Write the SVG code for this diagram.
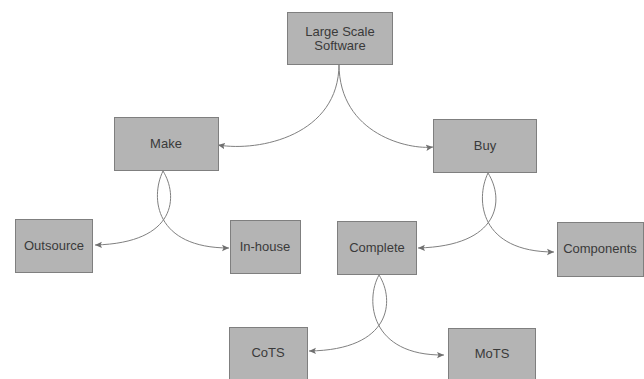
<svg xmlns="http://www.w3.org/2000/svg" width="644" height="379" viewBox="0 0 644 379">
<style>
.box{fill:#b4b4b4;stroke:#7f7f7f;stroke-width:1}
.lbl{font-family:"Liberation Sans",Arial,sans-serif;font-size:13px;fill:#3a3a3a;text-anchor:middle}
.edge{fill:none;stroke:#808080;stroke-width:1}
</style>
<defs>
<marker id="arr" markerWidth="8" markerHeight="8" refX="7" refY="4" orient="auto" markerUnits="userSpaceOnUse">
<path d="M0,0.8 L7,4 L0,7.2 L1.5,4 Z" fill="#707070"/>
</marker>
</defs>
<rect width="644" height="379" fill="#ffffff"/>
<g id="connectors">
<path class="edge" marker-end="url(#arr)" d="M339,64 C339,135 260,152 218,145"/>
<path class="edge" marker-end="url(#arr)" d="M339,64 C339,135 410,150 433,147"/>
<path class="edge" marker-end="url(#arr)" d="M163,171 C178,195 178,243 95,245"/>
<path class="edge" marker-end="url(#arr)" d="M163,171 C150,198 155,248 229,248"/>
<path class="edge" marker-end="url(#arr)" d="M488,173 C505,200 500,246 418,248"/>
<path class="edge" marker-end="url(#arr)" d="M488,173 C475,200 480,252 554,252"/>
<path class="edge" marker-end="url(#arr)" d="M379,275 C395,300 392,350 309,351"/>
<path class="edge" marker-end="url(#arr)" d="M379,275 C365,300 370,356 444,355"/>
</g>
<g id="node-lss">
<rect class="box" x="287.5" y="12.5" width="105" height="52"/>
<text class="lbl" x="340" y="36">Large Scale</text>
<text class="lbl" x="340" y="50">Software</text>
</g>
<g id="node-make">
<rect class="box" x="114.5" y="117.5" width="104" height="53"/>
<text class="lbl" x="166" y="148">Make</text>
</g>
<g id="node-buy">
<rect class="box" x="433.5" y="119.5" width="103" height="53"/>
<text class="lbl" x="485" y="150">Buy</text>
</g>
<g id="node-outsource">
<rect class="box" x="15.5" y="219.5" width="77" height="53"/>
<text class="lbl" x="54" y="250">Outsource</text>
</g>
<g id="node-inhouse">
<rect class="box" x="230.5" y="220.5" width="70" height="53"/>
<text class="lbl" x="265" y="251">In-house</text>
</g>
<g id="node-complete">
<rect class="box" x="337.5" y="221.5" width="79" height="53"/>
<text class="lbl" x="377" y="252">Complete</text>
</g>
<g id="node-components">
<rect class="box" x="557.5" y="222.5" width="86" height="54"/>
<text class="lbl" x="600" y="253">Components</text>
</g>
<g id="node-cots">
<rect class="box" x="229.5" y="327.5" width="78" height="53"/>
<text class="lbl" x="268" y="357">CoTS</text>
</g>
<g id="node-mots">
<rect class="box" x="448.5" y="328.5" width="87" height="53"/>
<text class="lbl" x="492" y="358">MoTS</text>
</g>
</svg>
